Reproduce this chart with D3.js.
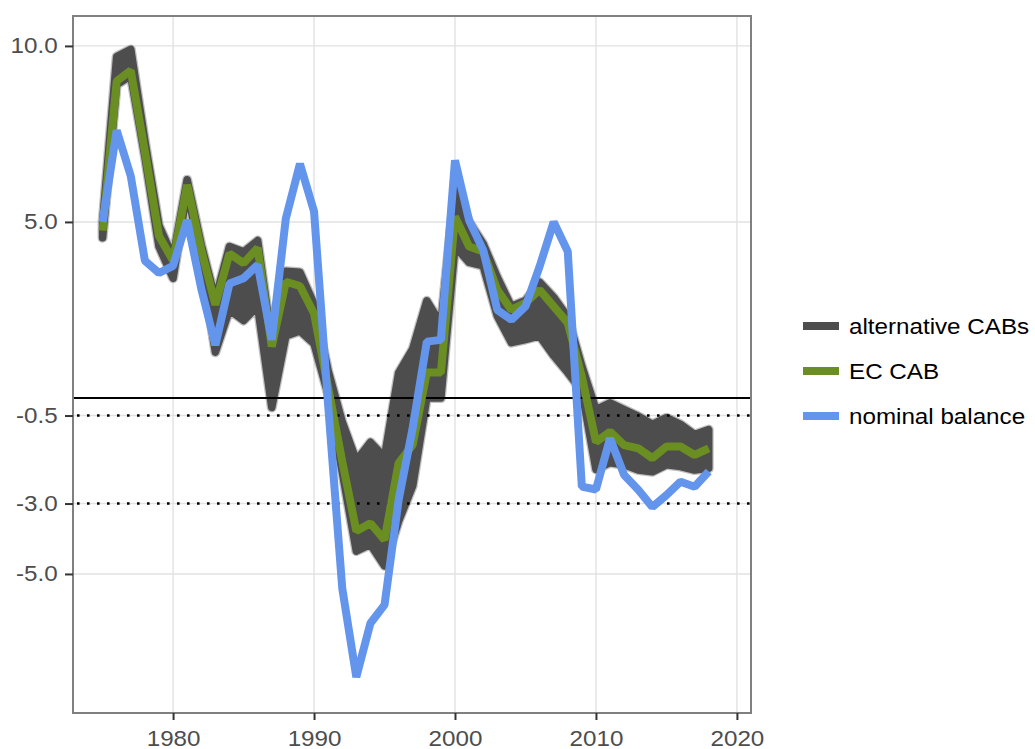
<!DOCTYPE html>
<html>
<head>
<meta charset="utf-8">
<script src="https://cdn.jsdelivr.net/npm/d3@7"></script>
<style>
  body { margin: 0; background: #ffffff; }
  svg { display: block; }
  text { font-family: "Liberation Sans", Arial, Helvetica, sans-serif; }
</style>
</head>
<body>
<svg id="chart" width="1035" height="749"></svg>
<script>
// ---- data ----------------------------------------------------------------
const years = [1975, 1976, 1977, 1978, 1979, 1980, 1981, 1982, 1983, 1984,
               1985, 1986, 1987, 1988, 1989, 1990, 1991, 1992, 1993, 1994,
               1995, 1996, 1997, 1998, 1999, 2000, 2001, 2002, 2003, 2004,
               2005, 2006, 2007, 2008, 2009, 2010, 2011, 2012, 2013, 2014,
               2015, 2016, 2017, 2018];

// nominal budget balance
const nominalBalance = [5.0, 7.6, 6.3, 3.9, 3.55, 3.75, 5.05, 3.1, 1.5, 3.25,
                        3.4, 3.78, 1.65, 5.1, 6.65, 5.3, -0.2, -5.4, -7.93, -6.4,
                        -5.88, -2.9, -0.85, 1.6, 1.65, 6.75, 5.05, 4.2, 2.5, 2.22,
                        2.6, 3.73, 5.0, 4.16, -2.52, -2.6, -1.15, -2.19, -2.61, -3.1,
                        -2.76, -2.38, -2.52, -2.09];

// European Commission cyclically adjusted balance
const ecCab = [4.75, 9.0, 9.3, 7.0, 4.6, 3.9, 6.05, 4.2, 2.65, 4.1,
               3.83, 4.26, 1.46, 3.3, 3.18, 2.4, 0.3, -1.8, -3.78, -3.56,
               -4.03, -1.85, -1.33, 0.72, 0.72, 5.15, 4.3, 4.16, 3.07, 2.5,
               2.7, 3.07, 2.6, 2.13, 0.6, -1.25, -0.96, -1.34, -1.43, -1.71,
               -1.38, -1.38, -1.62, -1.43];

// range spanned by the alternative CAB estimates
const altLow = [4.55, 8.9, 9.15, 6.85, 4.3, 3.4, 5.9, 3.9, 1.3, 2.5,
                2.2, 2.6, -0.27, 1.76, 1.9, 1.54, 0.1, -2.1, -4.35, -4.16,
                -4.77, -3.5, -2.5, 0.0, 0.0, 4.3, 3.85, 3.75, 2.33, 1.57,
                1.66, 1.76, 1.2, 0.72, 0.2, -2.03, -1.84, -1.9, -2.05, -2.1,
                -1.9, -1.95, -2.05, -2.0];
const altHigh = [5.0, 9.7, 9.9, 7.3, 4.9, 4.0, 6.2, 4.35, 2.8, 4.3,
                 4.15, 4.47, 1.6, 3.6, 3.57, 2.67, 0.77, -0.68, -1.78, -1.26,
                 -1.68, 0.71, 1.39, 2.76, 2.1, 6.0, 5.0, 4.38, 3.43, 2.6,
                 2.77, 3.29, 2.86, 2.3, 0.9, -0.33, -0.14, -0.33, -0.52, -0.75,
                 -0.56, -0.75, -1.04, -0.9];

const xTicks = [1980, 1990, 2000, 2010, 2020];
const yTicks = [10, 5, -0.5, -3, -5];
const zeroLine = [0];
const thresholdLines = [-0.5, -3];

const seriesNames = ["alternative CABs", "EC CAB", "nominal balance"];
const seriesColors = ["#4d4d4d", "#6b8e23", "#6495ed"];

// ---- layout --------------------------------------------------------------
const panel = { left: 73, right: 751, top: 16, bottom: 713 };
const textStretch = 1.1;

const svg = d3.select("#chart");

const x = d3.scaleLinear().domain([1972.9, 2021.0]).range([panel.left, panel.right]);
const y = d3.scaleLinear().domain([-8.95, 10.85]).range([panel.bottom, panel.top]);

svg.append("defs").append("clipPath").attr("id", "panel-clip")
  .append("rect")
  .attr("x", panel.left).attr("y", panel.top)
  .attr("width", panel.right - panel.left).attr("height", panel.bottom - panel.top);

// ---- grid ----------------------------------------------------------------
const grid = svg.append("g");
grid.selectAll("line.vx").data(xTicks).join("line")
  .attr("class", "vx")
  .attr("x1", d => x(d)).attr("x2", d => x(d))
  .attr("y1", panel.top).attr("y2", panel.bottom)
  .attr("stroke", "#e2e2e2").attr("stroke-width", 1.4);
grid.selectAll("line.hy").data(yTicks).join("line")
  .attr("class", "hy")
  .attr("x1", panel.left).attr("x2", panel.right)
  .attr("y1", d => y(d)).attr("y2", d => y(d))
  .attr("stroke", "#e2e2e2").attr("stroke-width", 1.4);

// ---- series --------------------------------------------------------------
const plot = svg.append("g").attr("clip-path", "url(#panel-clip)");

const bandRows = years.map((yr, i) => ({ yr, lo: altLow[i], hi: altHigh[i] }));
const band = d3.area()
  .x(d => x(d.yr))
  .y0(d => y(d.lo))
  .y1(d => y(d.hi));

// soft halo around the band of alternative estimates
plot.append("path")
  .datum(bandRows)
  .attr("d", band)
  .attr("fill", seriesColors[0])
  .attr("stroke", "#8c8c8c")
  .attr("stroke-opacity", 0.55)
  .attr("stroke-width", 10)
  .attr("stroke-linejoin", "round");
plot.append("path")
  .datum(bandRows)
  .attr("d", band)
  .attr("fill", seriesColors[0])
  .attr("stroke", seriesColors[0])
  .attr("stroke-width", 7.5)
  .attr("stroke-linejoin", "round");

// reference lines
plot.selectAll("line.zero").data(zeroLine).join("line")
  .attr("class", "zero")
  .attr("x1", panel.left).attr("x2", panel.right)
  .attr("y1", d => y(d)).attr("y2", d => y(d))
  .attr("stroke", "#000").attr("stroke-width", 2);
plot.selectAll("line.threshold").data(thresholdLines).join("line")
  .attr("class", "threshold")
  .attr("x1", panel.left + 4).attr("x2", panel.right)
  .attr("y1", d => y(d)).attr("y2", d => y(d))
  .attr("stroke", "#000").attr("stroke-width", 2.6)
  .attr("stroke-dasharray", "2.6,7.4");

const lineOf = values => d3.line()
  .x((d, i) => x(years[i]))
  .y(d => y(d))(values);

plot.append("path")
  .attr("d", lineOf(ecCab))
  .attr("fill", "none")
  .attr("stroke", seriesColors[1])
  .attr("stroke-width", 8)
  .attr("stroke-linejoin", "bevel");

plot.append("path")
  .attr("d", lineOf(nominalBalance))
  .attr("fill", "none")
  .attr("stroke", seriesColors[2])
  .attr("stroke-width", 8)
  .attr("stroke-linejoin", "bevel");

// ---- panel border & axes -------------------------------------------------
svg.append("rect")
  .attr("x", panel.left).attr("y", panel.top)
  .attr("width", panel.right - panel.left).attr("height", panel.bottom - panel.top)
  .attr("fill", "none").attr("stroke", "#808080").attr("stroke-width", 2);

const xAxis = svg.append("g")
  .attr("transform", `translate(0,${panel.bottom})`)
  .call(d3.axisBottom(x).tickValues(xTicks).tickSize(7).tickPadding(10).tickFormat(d => String(d)));

const yAxis = svg.append("g")
  .attr("transform", `translate(${panel.left},0)`)
  .call(d3.axisLeft(y).tickValues(yTicks).tickSize(8).tickPadding(6).tickFormat(d => d.toFixed(1)));

[xAxis, yAxis].forEach(ax => {
  ax.select(".domain").remove();
  ax.selectAll(".tick line").attr("stroke", "#333333").attr("stroke-width", 2);
  ax.selectAll(".tick text")
    .attr("fill", "#4d4d4d")
    .attr("font-size", 22)
    .attr("transform", `scale(${textStretch},1)`);
});

// ---- legend --------------------------------------------------------------
const legend = svg.append("g");
const legendY = [326, 371, 416];
const legendItems = legend.selectAll("g").data(seriesNames).join("g")
  .attr("transform", (d, i) => `translate(803,${legendY[i]})`);
legendItems.append("line")
  .attr("x1", 0).attr("x2", 36).attr("y1", 0).attr("y2", 0)
  .attr("stroke", (d, i) => seriesColors[i])
  .attr("stroke-width", 8);
legendItems.append("text")
  .attr("transform", `translate(46,0) scale(${textStretch},1)`)
  .attr("dy", "0.35em")
  .attr("font-size", 22)
  .attr("fill", "#000")
  .text(d => d);
</script>
</body>
</html>
